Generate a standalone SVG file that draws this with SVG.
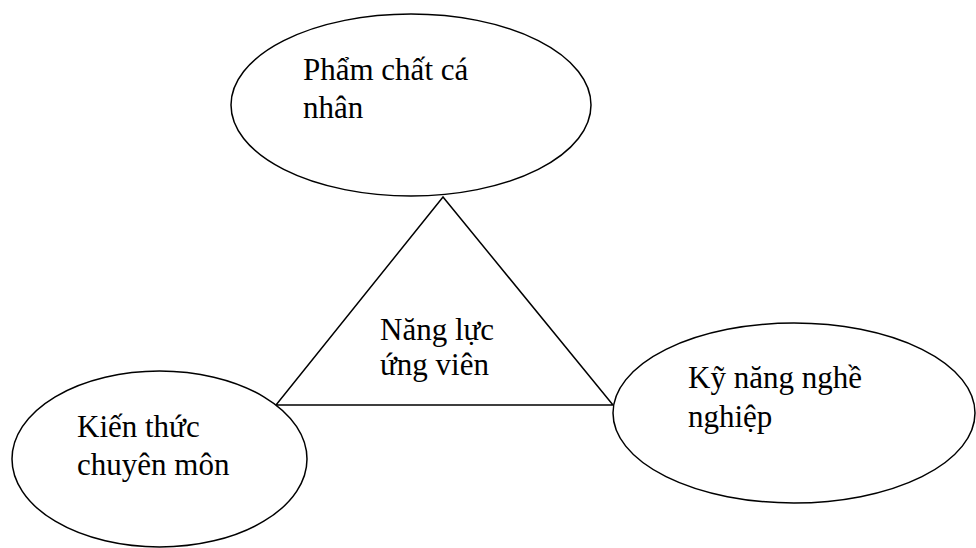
<svg xmlns="http://www.w3.org/2000/svg" width="976" height="548" viewBox="0 0 976 548">
<style>
.n{fill:#fff;stroke:#000;stroke-width:1.5}
.t{font-family:"Liberation Serif","Times New Roman",serif;font-size:31px;fill:#000}
.c{fill:none;stroke:#000;stroke-width:1.5}
</style>
<rect width="976" height="548" fill="#fff"/>
<g id="connectors">
<polygon class="c" points="443,197 276,405 613,405"/>
</g>
<g id="pham-chat">
<ellipse class="n" cx="411" cy="105" rx="180" ry="91"/>
<text class="t" x="303" y="80">Phẩm chất cá</text>
<text class="t" x="303" y="118">nhân</text>
</g>
<g id="kien-thuc">
<ellipse class="n" cx="159.5" cy="459" rx="147.5" ry="88"/>
<text class="t" x="77" y="437">Kiến thức</text>
<text class="t" x="77" y="475">chuyên môn</text>
</g>
<g id="ky-nang">
<ellipse class="n" cx="794" cy="413" rx="181" ry="90"/>
<text class="t" x="688" y="388">Kỹ năng nghề</text>
<text class="t" x="688" y="427">nghiệp</text>
</g>
<g id="nang-luc">
<text class="t" x="380" y="340">Năng lực</text>
<text class="t" x="380" y="375">ứng viên</text>
</g>
</svg>
